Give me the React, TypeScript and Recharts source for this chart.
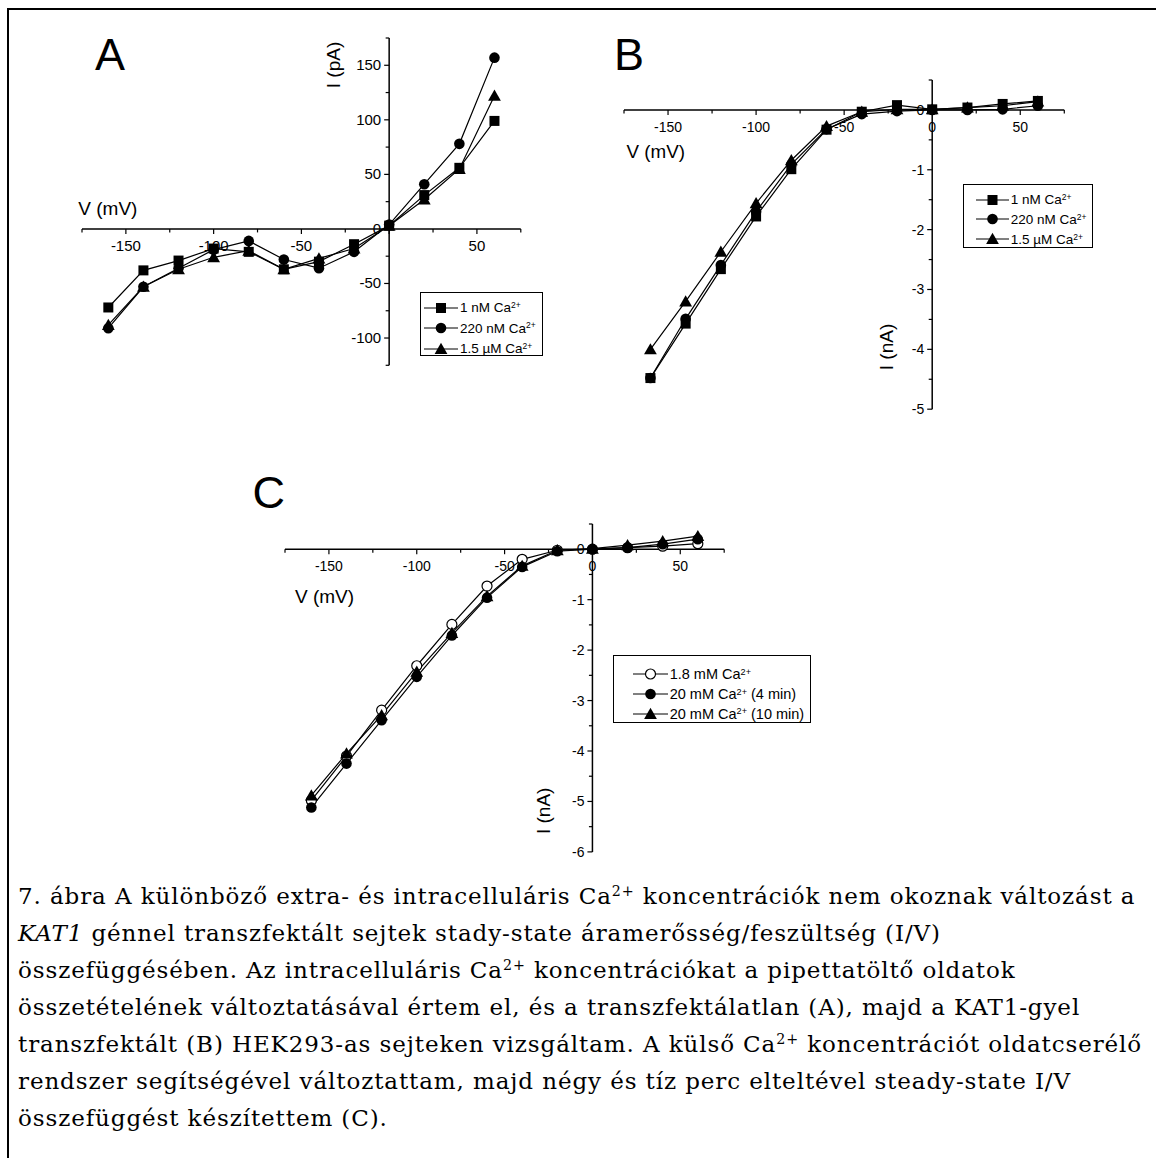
import React from 'react';
import { LineChart, Line, XAxis, YAxis, ReferenceLine, ReferenceDot, Legend } from 'recharts';

const voltages = [-160, -140, -120, -100, -80, -60, -40, -20, 0, 20, 40, 60];

// A - untransfected cells, current in pA
const aCa1nM = [-72, -38, -29, -18, -21, -37, -30, -14, 3, 31, 56, 99];
const aCa220nM = [-91, -53, -36, -19, -11, -28, -36, -21, 4, 41, 78, 157];
const aCa15uM = [-88, -53, -37, -26, -20, -37, -27, -18, 3, 27, 55, 122];

// B - KAT1 transfected cells, current in nA
const bCa1nM = [-4.48, -3.57, -2.66, -1.78, -0.99, -0.33, -0.03, 0.08, 0.01, 0.04, 0.1, 0.15];
const bCa220nM = [-4.48, -3.49, -2.59, -1.7, -0.91, -0.32, -0.07, -0.02, 0, 0, 0.01, 0.07];
const bCa15uM = [-4.0, -3.2, -2.37, -1.56, -0.84, -0.27, -0.03, 0.01, 0.01, 0.04, 0.07, 0.14];

// C - external Ca2+, current in nA
const cCa18mM = [-4.98, -4.1, -3.19, -2.31, -1.49, -0.73, -0.2, -0.02, 0, 0.03, 0.06, 0.11];
const cCa20mM4 = [-5.12, -4.25, -3.39, -2.53, -1.71, -0.96, -0.35, -0.04, 0, 0.03, 0.1, 0.2];
const cCa20mM10 = [-4.88, -4.05, -3.29, -2.43, -1.66, -0.93, -0.33, -0.02, 0.01, 0.08, 0.16, 0.26];

const xMajor = [-150, -100, -50, 0, 50];
const xMinor = [-175, -125, -75, -25, 25, 75];
const aYMajor = [150, 100, 50, 0, -50, -100];
const aYMinor = [175, 125, 75, 25, -25, -75, -125];
const bYMajor = [0, -1, -2, -3, -4, -5];
const bYMinor = [0.5, -0.5, -1.5, -2.5, -3.5, -4.5];
const cYMajor = [0, -1, -2, -3, -4, -5, -6];
const cYMinor = [0.5, -0.5, -1.5, -2.5, -3.5, -4.5, -5.5];

const SANS = '"Liberation Sans", Arial, sans-serif';
const M = 30;

type Mk = 'square' | 'circle' | 'triangle' | 'open';
type Ser = { key: string; label: string; tail?: string; values: number[]; mk: Mk };

function Marker({ mk, cx, cy }: { mk: Mk; cx: number; cy: number }) {
  if (mk === 'square') return <rect x={cx - 5} y={cy - 5} width={10} height={10} fill="#000" />;
  if (mk === 'circle') return <circle cx={cx} cy={cy} r={5.3} fill="#000" />;
  if (mk === 'open') return <circle cx={cx} cy={cy} r={5} fill="#fff" stroke="#000" strokeWidth={1.2} />;
  return <path d={`M${cx},${cy - 6.2}L${cx + 6.4},${cy + 5}L${cx - 6.4},${cy + 5}Z`} fill="#000" />;
}

const dotFor = (mk: Mk) => (p: any) => {
  if (p.cx == null || p.cy == null) return <g key={p.index} />;
  return <g key={p.index}><Marker mk={mk} cx={p.cx} cy={p.cy} /></g>;
};

const xTick = (len: number, label: string | null, fs: number) => (p: any) => (
  <g>
    <line x1={p.cx} y1={p.cy} x2={p.cx} y2={p.cy + len} stroke="#000" strokeWidth={1.2} />
    {label !== null && (
      <text x={p.cx} y={p.cy + 22} textAnchor="middle" fontSize={fs} fontFamily={SANS} fill="#000">{label}</text>
    )}
  </g>
);

const yTick = (len: number, label: string | null, fs: number) => (p: any) => (
  <g>
    <line x1={p.cx} y1={p.cy} x2={p.cx - len} y2={p.cy} stroke="#000" strokeWidth={1.2} />
    {label !== null && (
      <text x={p.cx - 8} y={p.cy + 5} textAnchor="end" fontSize={fs} fontFamily={SANS} fill="#000">{label}</text>
    )}
  </g>
);

type Leg = { x: number; y: number; w: number; h: number; padL: number; padT: number; rowH: number; lineW: number; fs: number };

function LegendBox({ series, leg }: { series: Ser[]; leg: Leg }) {
  return (
    <div style={{ boxSizing: 'border-box', width: leg.w, height: leg.h, border: '1px solid #000', background: '#fff', paddingTop: leg.padT, paddingLeft: leg.padL, fontFamily: SANS, fontSize: leg.fs, color: '#000' }}>
      {series.map(s => (
        <div key={s.key} style={{ height: leg.rowH, display: 'flex', alignItems: 'center', whiteSpace: 'nowrap' }}>
          <svg width={leg.lineW} height={16} style={{ flex: 'none' }}>
            <line x1={0} y1={8} x2={leg.lineW} y2={8} stroke="#000" strokeWidth={1} />
            <Marker mk={s.mk} cx={leg.lineW / 2} cy={8} />
          </svg>
          <span style={{ marginLeft: 2 }}>
            {s.label}Ca<span style={{ fontSize: '0.63em', position: 'relative', top: '-0.5em', lineHeight: 0 }}>2+</span>{s.tail ?? ''}
          </span>
        </div>
      ))}
    </div>
  );
}

type PanelProps = {
  x0: number; y0: number; x1: number; y1: number;
  yDomain: [number, number]; yMajor: number[]; yMinor: number[];
  showX0: boolean; series: Ser[]; leg: Leg; fs: number;
};

function Panel(p: PanelProps) {
  const left = p.x0 - M;
  const top = p.y0 - M;
  const w = p.x1 - p.x0 + 2 * M;
  const h = p.y1 - p.y0 + 2 * M;
  const rows = voltages.map((v, i) => {
    const r: any = { v };
    p.series.forEach(s => { r[s.key] = s.values[i]; });
    return r;
  });
  return (
    <div style={{ position: 'absolute', left, top }}>
      <LineChart width={w} height={h} data={rows} margin={{ top: M, right: M, bottom: M, left: M }}>
        <XAxis dataKey="v" type="number" domain={[-175, 75]} allowDataOverflow hide />
        <YAxis type="number" domain={p.yDomain} allowDataOverflow hide />
        <ReferenceLine y={0} stroke="#000" strokeWidth={1.5} ifOverflow="visible" />
        <ReferenceLine x={0} stroke="#000" strokeWidth={1.5} ifOverflow="visible" />
        {xMinor.map(t => (
          <ReferenceDot key={'xm' + t} x={t} y={0} ifOverflow="visible" shape={xTick(3.5, null, p.fs)} />
        ))}
        {xMajor.map(t => (
          <ReferenceDot key={'xM' + t} x={t} y={0} ifOverflow="visible"
            shape={xTick(5, t === 0 && !p.showX0 ? null : String(t), p.fs)} />
        ))}
        {p.yMinor.map(t => (
          <ReferenceDot key={'ym' + t} x={0} y={t} ifOverflow="visible" shape={yTick(3.5, null, p.fs)} />
        ))}
        {p.yMajor.map(t => (
          <ReferenceDot key={'yM' + t} x={0} y={t} ifOverflow="visible" shape={yTick(5, String(t), p.fs)} />
        ))}
        {p.series.map(s => (
          <Line key={s.key} type="linear" dataKey={s.key} stroke="#000" strokeWidth={1.2}
            dot={dotFor(s.mk)} activeDot={false} isAnimationActive={false} />
        ))}
        <Legend layout="horizontal" verticalAlign="middle" align="center"
          wrapperStyle={{ left: p.leg.x - left, top: p.leg.y - top, width: p.leg.w, height: p.leg.h, right: 'auto', bottom: 'auto' }}
          content={() => <LegendBox series={p.series} leg={p.leg} />} />
      </LineChart>
    </div>
  );
}

const aSeries: Ser[] = [
  { key: 's1', label: '1 nM ', values: aCa1nM, mk: 'square' },
  { key: 's2', label: '220 nM ', values: aCa220nM, mk: 'circle' },
  { key: 's3', label: '1.5 \u00b5M ', values: aCa15uM, mk: 'triangle' },
];
const bSeries: Ser[] = [
  { key: 's1', label: '1 nM ', values: bCa1nM, mk: 'square' },
  { key: 's2', label: '220 nM ', values: bCa220nM, mk: 'circle' },
  { key: 's3', label: '1.5 \u00b5M ', values: bCa15uM, mk: 'triangle' },
];
const cSeries: Ser[] = [
  { key: 's1', label: '1.8 mM ', values: cCa18mM, mk: 'open' },
  { key: 's2', label: '20 mM ', tail: ' (4 min)', values: cCa20mM4, mk: 'circle' },
  { key: 's3', label: '20 mM ', tail: ' (10 min)', values: cCa20mM10, mk: 'triangle' },
];

const Sup = () => <span style={{ fontSize: '0.62em', position: 'relative', top: '-0.55em', lineHeight: 0 }}>2+</span>;

export default function App() {
  return (
    <div style={{ position: 'absolute', left: 0, top: 0, width: 1156, height: 1158, background: '#fff', overflow: 'hidden' }}>
      <div style={{ position: 'absolute', left: 7, top: 8, width: 1170, height: 1170, borderTop: '2.5px solid #000', borderLeft: '2.3px solid #000' }} />
      <Panel x0={81.8} x1={520.6} y0={37.7} y1={365} yDomain={[-125, 175]} yMajor={aYMajor} yMinor={aYMinor}
        showX0={false} series={aSeries} fs={15}
        leg={{ x: 420, y: 292.5, w: 123, h: 63.5, padL: 3, padT: 4, rowH: 20.5, lineW: 34, fs: 13.5 }} />
      <Panel x0={623.8} x1={1064.1} y0={80.1} y1={409.3} yDomain={[-5, 0.5]} yMajor={bYMajor} yMinor={bYMinor}
        showX0={true} series={bSeries} fs={14}
        leg={{ x: 962.7, y: 184.3, w: 130, h: 64, padL: 12, padT: 4.5, rowH: 19.8, lineW: 33, fs: 13.5 }} />
      <Panel x0={285.4} x1={724.6} y0={523.8} y1={851.7} yDomain={[-6, 0.5]} yMajor={cYMajor} yMinor={cYMinor}
        showX0={true} series={cSeries} fs={14}
        leg={{ x: 612.7, y: 655, w: 198, h: 67.7, padL: 19, padT: 8.5, rowH: 19.8, lineW: 35, fs: 14.5 }} />
      <svg width={1156} height={1158} style={{ position: 'absolute', left: 0, top: 0, pointerEvents: 'none' }}>
        <g fontFamily={SANS} fill="#000">
          <text x={95} y={70} fontSize={45}>A</text>
          <text x={614} y={70} fontSize={45}>B</text>
          <text x={252.5} y={507.5} fontSize={45}>C</text>
          <text x={78.3} y={215} fontSize={19}>V (mV)</text>
          <text x={626.5} y={158} fontSize={18.8}>V (mV)</text>
          <text x={295} y={603} fontSize={19}>V (mV)</text>
          <text transform="translate(333.3,65) rotate(-90)" y={6.5} textAnchor="middle" fontSize={19}>I (pA)</text>
          <text transform="translate(886.5,347) rotate(-90)" y={6.5} textAnchor="middle" fontSize={19}>I (nA)</text>
          <text transform="translate(543.3,810.8) rotate(-90)" y={6.5} textAnchor="middle" fontSize={19}>I (nA)</text>
        </g>
      </svg>
      <div style={{ position: 'absolute', left: 18, top: 878, fontFamily: '"DejaVu Serif", serif', fontSize: 23, letterSpacing: 0.9, lineHeight: '37px', color: '#000', whiteSpace: 'nowrap' }}>
        <div>7. ábra A különböző extra- és intracelluláris Ca<Sup /> koncentrációk nem okoznak változást a</div>
        <div><i>KAT1</i> génnel transzfektált sejtek stady-state áramerősség/feszültség (I/V)</div>
        <div>összefüggésében. Az intracelluláris Ca<Sup /> koncentrációkat a pipettatöltő oldatok</div>
        <div>összetételének változtatásával értem el, és a transzfektálatlan (A), majd a KAT1-gyel</div>
        <div>transzfektált (B) HEK293-as sejteken vizsgáltam. A külső Ca<Sup /> koncentrációt oldatcserélő</div>
        <div>rendszer segítségével változtattam, majd négy és tíz perc elteltével steady-state I/V</div>
        <div>összefüggést készítettem (C).</div>
      </div>
    </div>
  );
}
